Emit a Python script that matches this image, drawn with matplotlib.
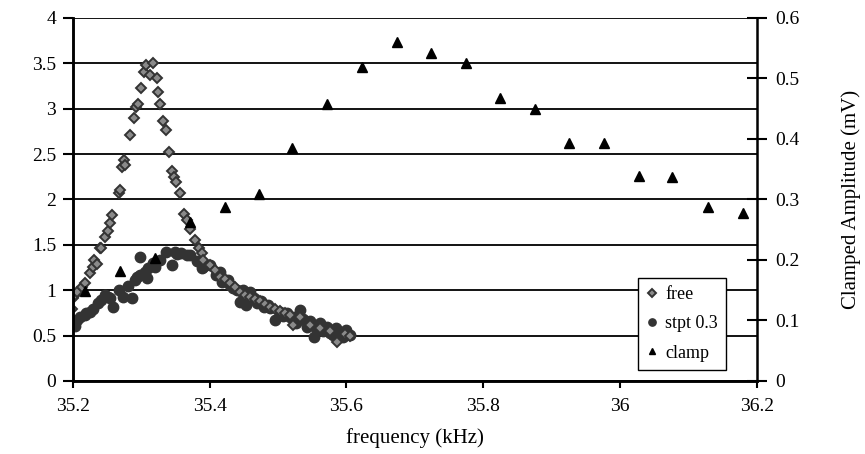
import numpy as np
import matplotlib
matplotlib.use('Agg')
import matplotlib.pyplot as plt
from matplotlib.ticker import FuncFormatter

plt.rcParams['font.family'] = ['Liberation Serif', 'DejaVu Serif']

# free resonator (left axis)
free_freq = [35.199, 35.201, 35.203, 35.207, 35.213, 35.218, 35.225, 35.230, 35.231, 35.235,
             35.240, 35.242, 35.247, 35.252, 35.255, 35.258, 35.267, 35.269, 35.272, 35.275,
             35.276, 35.284, 35.289, 35.293, 35.295, 35.300, 35.304, 35.307, 35.313, 35.317,
             35.323, 35.324, 35.328, 35.332, 35.336, 35.341, 35.345, 35.348, 35.351, 35.357,
             35.362, 35.367, 35.372, 35.379, 35.384, 35.389, 35.391, 35.401, 35.408, 35.415,
             35.423, 35.430, 35.437, 35.445, 35.452, 35.459, 35.467, 35.474, 35.481, 35.488,
             35.496, 35.503, 35.510, 35.518, 35.522, 35.532, 35.547, 35.561, 35.576, 35.586,
             35.598, 35.605]
free_amp = [0.79, 0.91, 0.95, 0.98, 1.04, 1.08, 1.19, 1.26, 1.33, 1.29,
            1.46, 1.46, 1.59, 1.65, 1.74, 1.83, 2.07, 2.10, 2.36, 2.44,
            2.38, 2.71, 2.90, 3.02, 3.05, 3.23, 3.40, 3.48, 3.37, 3.50,
            3.34, 3.18, 3.05, 2.87, 2.77, 2.52, 2.31, 2.25, 2.19, 2.07,
            1.84, 1.77, 1.68, 1.55, 1.47, 1.41, 1.33, 1.28, 1.22, 1.15,
            1.12, 1.08, 1.04, 0.98, 0.95, 0.93, 0.90, 0.88, 0.85, 0.82,
            0.79, 0.77, 0.75, 0.73, 0.62, 0.70, 0.62, 0.58, 0.55, 0.43,
            0.52, 0.50]

# setpoint 0.3 (left axis)
stpt_freq = [35.203, 35.206, 35.211, 35.218, 35.220, 35.225, 35.230, 35.237, 35.242, 35.247,
             35.252, 35.255, 35.259, 35.267, 35.274, 35.281, 35.286, 35.291, 35.294, 35.298,
             35.298, 35.306, 35.308, 35.310, 35.318, 35.320, 35.328, 35.337, 35.345, 35.350,
             35.352, 35.359, 35.367, 35.371, 35.381, 35.389, 35.391, 35.401, 35.410, 35.415,
             35.418, 35.427, 35.430, 35.435, 35.440, 35.445, 35.449, 35.454, 35.459, 35.465,
             35.469, 35.475, 35.479, 35.485, 35.488, 35.496, 35.503, 35.508, 35.513, 35.517,
             35.522, 35.527, 35.532, 35.537, 35.542, 35.547, 35.552, 35.556, 35.561, 35.566,
             35.571, 35.576, 35.581, 35.585, 35.591, 35.595, 35.600, 35.605]
stpt_amp = [0.61, 0.67, 0.70, 0.73, 0.75, 0.76, 0.79, 0.86, 0.89, 0.95,
            0.93, 0.91, 0.82, 1.00, 0.93, 1.05, 0.91, 1.11, 1.15, 1.17,
            1.37, 1.20, 1.13, 1.24, 1.30, 1.26, 1.33, 1.42, 1.28, 1.42,
            1.40, 1.41, 1.39, 1.39, 1.32, 1.24, 1.26, 1.28, 1.17, 1.20,
            1.09, 1.11, 1.06, 1.02, 1.00, 0.87, 1.00, 0.84, 0.98, 0.92,
            0.86, 0.88, 0.82, 0.84, 0.80, 0.67, 0.76, 0.72, 0.75, 0.70,
            0.71, 0.64, 0.78, 0.68, 0.60, 0.66, 0.49, 0.58, 0.64, 0.55,
            0.60, 0.53, 0.51, 0.58, 0.54, 0.49, 0.56, 0.51]

# clamped (right axis, mV)
clamp_freq = [35.218, 35.269, 35.321, 35.371, 35.423, 35.472, 35.521, 35.572, 35.623, 35.674,
              35.724, 35.775, 35.824, 35.876, 35.926, 35.977, 36.027, 36.076, 36.128, 36.179]
clamp_amp = [0.149, 0.182, 0.203, 0.262, 0.288, 0.309, 0.385, 0.458, 0.519, 0.560,
             0.542, 0.525, 0.468, 0.450, 0.393, 0.393, 0.339, 0.337, 0.288, 0.278]

fig = plt.figure(figsize=(8.65, 4.54), dpi=100)
ax = fig.add_axes([0.0840, 0.1608, 0.7911, 0.7996])
ax2 = ax.twinx()

s1, = ax.plot(stpt_freq, stpt_amp, 'o', ms=7.5, color='#333333', mec='#333333', label='stpt 0.3')
f1, = ax.plot(free_freq, free_amp, 'D', ms=5.5, mfc='#8a8a8a', mec='#333333', mew=1.4, label='free')
c1, = ax2.plot(clamp_freq, clamp_amp, '^', ms=7, color='black', label='clamp')

ax.set_xlim(35.2, 36.2)
ax.set_ylim(0, 4)
ax2.set_ylim(0, 0.6)
ax.set_xticks(np.arange(35.2, 36.21, 0.2))
ax.set_yticks(np.arange(0, 4.01, 0.5))
ax2.set_yticks(np.arange(0, 0.61, 0.1))
fmt = FuncFormatter(lambda v, p: '%g' % round(v, 2))
ax.xaxis.set_major_formatter(fmt)
ax.yaxis.set_major_formatter(fmt)
ax2.yaxis.set_major_formatter(fmt)

ax.grid(axis='y', color='black', lw=1.3)
ax.set_axisbelow(True)
for a in (ax, ax2):
    a.spines['top'].set_visible(False)
    a.spines['left'].set_linewidth(1.8)
    a.spines['right'].set_linewidth(1.8)
    a.spines['bottom'].set_linewidth(1.8)
ax.spines['right'].set_visible(False)

ax.tick_params(axis='y', direction='out', length=7, width=1.5, labelsize=14, pad=5)
ax.tick_params(axis='x', direction='out', length=5, width=1.5, labelsize=14, pad=7)
ax2.tick_params(axis='y', direction='inout', length=14, width=1.5, labelsize=14, pad=6)

ax.set_xlabel('frequency (kHz)', fontsize=15, labelpad=10)
ax2.set_ylabel('Clamped Amplitude (mV)', fontsize=15, labelpad=30)

leg = ax2.legend([f1, s1, c1], ['free', 'stpt 0.3', 'clamp'], loc='upper left',
                 bbox_to_anchor=(0.826, 0.284), borderaxespad=0, fontsize=13,
                 fancybox=False, framealpha=1, edgecolor='black', markerscale=0.7,
                 handlelength=0.7, handletextpad=0.35, labelspacing=0.68, borderpad=0.45)
leg.get_frame().set_linewidth(1.0)

plt.savefig('out.png', dpi=100)
plt.close()
